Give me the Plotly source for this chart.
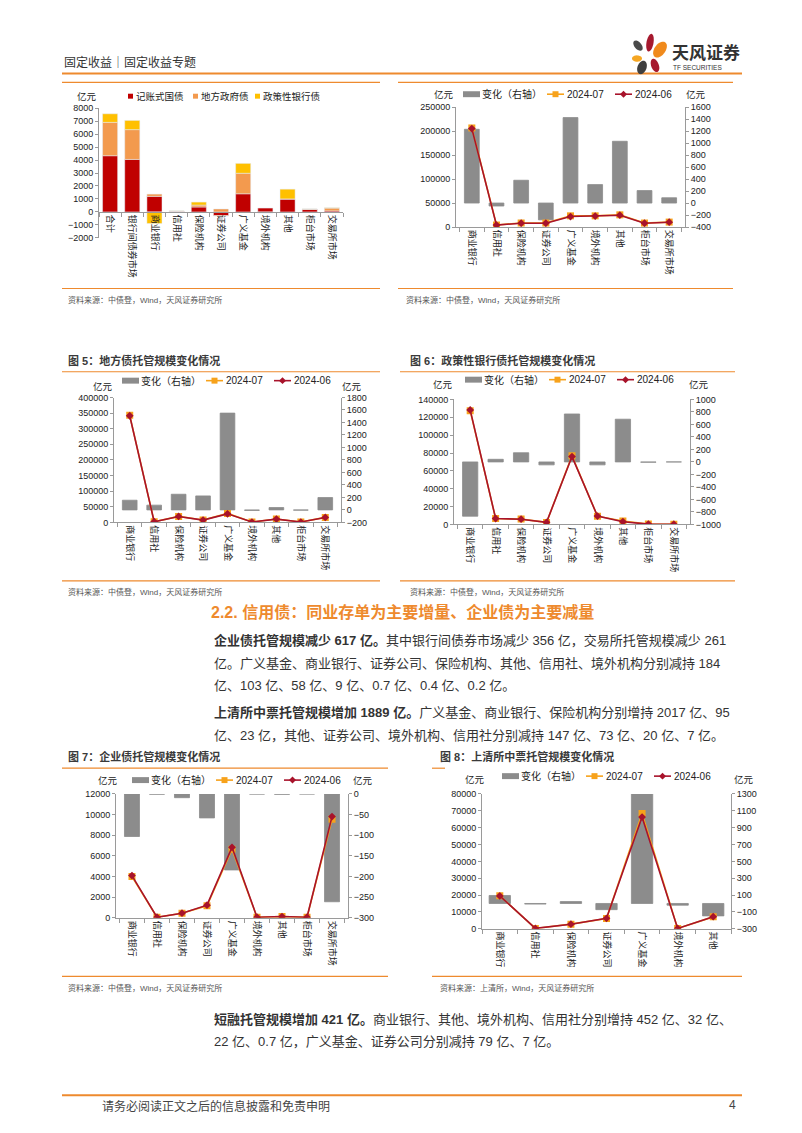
import numpy as np
import plotly.graph_objects as go

W, H = 802, 1133

FONT_CJK = "Noto Sans CJK SC"
FONT_MIX = "Liberation Sans, Noto Sans CJK SC"

RED = "#C00000"
ORANGE_BAR = "#F39A4E"
YELLOW = "#FFC000"
GRAY_BAR = "#8C8C8C"
C07 = "#F7A21B"
C06 = "#A8132B"
ACCENT = "#EE8A2E"
AXIS = "#9A9A9A"
TXT = "#333333"

# ---------------------------------------------------------------------------
# Data (亿元)
# ---------------------------------------------------------------------------
c1_cats = ["合计", "银行间债券市场", "商业银行", "信用社", "保险机构", "证券公司",
           "广义基金", "境外机构", "其他", "柜台市场", "交易所市场"]
c1_book_entry = [4330, 4045, 1200, 40, 380, -290, 1400, 300, 990, 200, 80]
c1_local_gov = [2570, 2295, 175, 40, 150, 230, 1580, -60, 15, 20, 220]
c1_policy_bank = [660, 710, -890, 10, 230, -20, 760, -15, 750, 15, 20]

c2_cats = ["商业银行", "信用社", "保险机构", "证券公司", "广义基金", "境外机构",
           "其他", "柜台市场", "交易所市场"]
c2_chg = [1230, -50, 380, -280, 1425, 308, 1030, 208, 88]
c2_jul = [206500, 4200, 8400, 8300, 23300, 23300, 25400, 8300, 10300]
c2_jun = [205200, 4000, 8000, 8000, 21800, 22900, 24600, 7900, 10100]

c5_cats = c2_cats
c5_chg = [155, 76, 251, 224, 1550, -8, 38, -4, 198]
c5_jul = [343000, 2200, 19200, 7500, 28800, 1100, 10700, 1100, 16000]
c5_jun = [341500, 2100, 19000, 7300, 27300, 1100, 10600, 1100, 15800]

c6_cats = c2_cats
c6_chg = [-869, 42, 147, -47, 768, -47, 684, -5, 0]
c6_jul = [127500, 6600, 5900, 2200, 76800, 9200, 3700, 300, 200]
c6_jun = [128300, 6600, 5800, 2300, 76000, 9300, 3000, 300, 200]

c7_cats = c2_cats
c7_chg = [-103, -0.4, -9, -58, -184, -0.2, -0.7, 0, -261]
c7_jul = [4000, 60, 440, 1170, 6650, 60, 125, 60, 9550]
c7_jun = [4100, 60, 450, 1230, 6830, 60, 126, 60, 9810]

c8_cats = ["商业银行", "信用社", "保险机构", "证券公司", "广义基金", "境外机构", "其他"]
c8_chg = [95, -7, 23, -73, 2017, -20, -147]
c8_jul = [19600, 200, 2750, 6100, 68400, 200, 7060]
c8_jun = [19500, 220, 2730, 6170, 66300, 220, 7200]


def fx(x):
    return x / W


def fy(y):
    return 1 - y / H


def cat_axis(x0, x1, anchor, position=None):
    d = dict(
        domain=[fx(x0), fx(x1)], anchor=anchor, type="category",
        tickangle=90, showline=True, linecolor=AXIS, linewidth=1,
        ticks="outside", tickson="boundaries", ticklen=4, tickcolor=AXIS,
        tickfont=dict(size=9, family=FONT_CJK, color="#222"),
        showgrid=False, zeroline=False, fixedrange=True,
    )
    if position is not None:
        d["anchor"] = "free"
        d["position"] = position
    return d


def val_axis(y0, y1, anchor, rng, dtick, side="left", overlaying=None):
    d = dict(
        anchor=anchor, range=rng, dtick=dtick, tick0=rng[0], side=side,
        tickformat="d", showline=True, linecolor=AXIS, linewidth=1,
        ticks="outside", ticklen=3, tickcolor=AXIS,
        tickfont=dict(size=9, family="Liberation Sans", color="#222"),
        showgrid=False, zeroline=False, fixedrange=True,
    )
    if overlaying:
        d["overlaying"] = overlaying
    else:
        d["domain"] = [fy(y1), fy(y0)]
    return d


fig = go.Figure()

# chart 1: stacked change by bond type
for name, vals, color in [("记账式国债", c1_book_entry, RED),
                          ("地方政府债", c1_local_gov, ORANGE_BAR),
                          ("政策性银行债", c1_policy_bank, YELLOW)]:
    fig.add_trace(go.Bar(
        x=c1_cats, y=vals, name=name, marker_color=color, width=0.68,
        xaxis="x", yaxis="y",
    ))


def add_combo(xa, y_bar, y_line, cats, chg, jul, jun):
    fig.add_trace(go.Bar(
        x=cats, y=chg, name="变化（右轴）", width=0.6,
        marker=dict(color=GRAY_BAR, line=dict(color=GRAY_BAR, width=0.8)),
        xaxis=xa, yaxis=y_bar,
    ))
    fig.add_trace(go.Scatter(
        x=cats, y=jul, name="2024-07", mode="lines+markers",
        line=dict(color=C07, width=1.6),
        marker=dict(symbol="square", size=7, color=C07),
        xaxis=xa, yaxis=y_line,
    ))
    fig.add_trace(go.Scatter(
        x=cats, y=jun, name="2024-06", mode="lines+markers",
        line=dict(color=C06, width=1.6),
        marker=dict(symbol="diamond", size=6, color=C06),
        xaxis=xa, yaxis=y_line,
    ))


add_combo("x2", "y2", "y3", c2_cats, c2_chg, c2_jul, c2_jun)
add_combo("x3", "y4", "y5", c5_cats, c5_chg, c5_jul, c5_jun)
add_combo("x4", "y6", "y7", c6_cats, c6_chg, c6_jul, c6_jun)
add_combo("x5", "y8", "y9", c7_cats, c7_chg, c7_jul, c7_jun)
add_combo("x6", "y10", "y11", c8_cats, c8_chg, c8_jul, c8_jun)

fig.update_layout(
    width=W, height=H, autosize=False, showlegend=False,
    margin=dict(l=0, r=0, t=0, b=0),
    paper_bgcolor="white", plot_bgcolor="rgba(0,0,0,0)",
    barmode="relative",
    font=dict(family=FONT_MIX, color=TXT),
    # chart 1
    xaxis=cat_axis(99, 343, "y", position=fy(208.8)),
    yaxis=val_axis(104, 235, "x", [-2000, 8000], 1000),
    # chart 2
    xaxis2=cat_axis(456, 685, "y2"),
    yaxis2=val_axis(103, 224, "x2", [-400, 1600], 200, side="right"),
    yaxis3=val_axis(103, 224, "x2", [0, 250000], 50000, overlaying="y2"),
    # chart 5
    xaxis3=cat_axis(114, 341, "y4"),
    yaxis4=val_axis(396, 522, "x3", [-200, 1800], 200, side="right"),
    yaxis5=val_axis(396, 522, "x3", [0, 400000], 50000, overlaying="y4"),
    # chart 6
    xaxis4=cat_axis(454, 690, "y6"),
    yaxis6=val_axis(398, 524, "x4", [-1000, 1000], 200, side="right"),
    yaxis7=val_axis(398, 524, "x4", [0, 140000], 20000, overlaying="y6"),
    # chart 7
    xaxis5=cat_axis(116, 348, "y8"),
    yaxis8=val_axis(796, 921, "x5", [-300, 0], 50, side="right"),
    yaxis9=val_axis(796, 921, "x5", [0, 12000], 2000, overlaying="y8"),
    # chart 8
    xaxis6=cat_axis(482, 731, "y10"),
    yaxis10=val_axis(796, 932, "x6", [-300, 1300], 200, side="right"),
    yaxis11=val_axis(796, 932, "x6", [0, 80000], 10000, overlaying="y10"),
)

# ---------------------------------------------------------------------------
# Page furniture: rules, legends, titles, body text
# ---------------------------------------------------------------------------
shapes = []
anns = []


def hline(x0, x1, y, color=ACCENT, width=1.2):
    shapes.append(dict(type="line", xref="paper", yref="paper",
                       x0=fx(x0), x1=fx(x1), y0=fy(y), y1=fy(y),
                       line=dict(color=color, width=width)))


def box(x0, y0, x1, y1, color):
    shapes.append(dict(type="rect", xref="paper", yref="paper",
                       x0=fx(x0), x1=fx(x1), y0=fy(y1), y1=fy(y0),
                       fillcolor=color, line=dict(width=0)))


def diamond(cx, cy, r, color):
    pts = [(cx, cy - r), (cx + r, cy), (cx, cy + r), (cx - r, cy)]
    path = "M " + " L ".join(f"{fx(x):.5f},{fy(y):.5f}" for x, y in pts) + " Z"
    shapes.append(dict(type="path", xref="paper", yref="paper", path=path,
                       fillcolor=color, line=dict(width=0)))


def ann(text, x, y, size, color=TXT, xanchor="left", family=FONT_MIX):
    anns.append(dict(text=text, x=fx(x), y=fy(y), xref="paper", yref="paper",
                     xanchor=xanchor, yanchor="middle", showarrow=False,
                     font=dict(size=size, color=color, family=family)))


def combo_legend(x0, y, size=10):
    box(x0, y - 3, x0 + 17, y + 3, GRAY_BAR)
    ann("变化（右轴）", x0 + 17, y, size, "#222")
    hline(x0 + 84, x0 + 101, y, C07, 1.6)
    box(x0 + 89.5, y - 3, x0 + 95.5, y + 3, C07)
    ann("2024-07", x0 + 102, y, size, "#222")
    hline(x0 + 152, x0 + 169, y, C06, 1.6)
    diamond(x0 + 160.5, y, 3.5, C06)
    ann("2024-06", x0 + 170, y, size, "#222")


# chart 1 legend
for sx, name, color in [(128, "记账式国债", RED), (193, "地方政府债", ORANGE_BAR),
                        (255, "政策性银行债", YELLOW)]:
    box(sx, 89.5, sx + 5, 94.5, color)
    ann(name, sx + 5.5, 92, 9.5, "#222")

combo_legend(463, 90)
combo_legend(122, 379)
combo_legend(465, 378)
combo_legend(132, 782)
combo_legend(502, 778)

hline(62, 742, 69, width=2)
hline(62, 380, 78)
hline(398, 733, 78)
hline(62, 380, 286)
hline(398, 733, 286)
hline(62, 380, 370)
hline(400, 735, 370)
hline(62, 380, 581)
hline(400, 735, 581)
hline(62, 388, 770)
hline(432, 445, 770)
hline(62, 388, 980)
hline(432, 742, 980)
hline(62, 742, 1100, width=2)


def petal(cx, cy, rx, ry, ang, color):
    t = np.linspace(0, 2 * np.pi, 40)
    a = np.deg2rad(ang)
    xs = cx + rx * np.cos(t) * np.cos(a) - ry * np.sin(t) * np.sin(a)
    ys = cy + rx * np.cos(t) * np.sin(a) + ry * np.sin(t) * np.cos(a)
    path = "M " + " L ".join(f"{fx(x):.5f},{fy(y):.5f}" for x, y in zip(xs, ys)) + " Z"
    shapes.append(dict(type="path", xref="paper", yref="paper", path=path,
                       fillcolor=color, line=dict(width=0)))


petal(650, 38, 3.5, 9, 10, "#A6192E")
petal(660, 45, 5.5, 9, 35, "#F08A1C")
petal(638, 41, 3.5, 6, -40, "#4A4A4A")
petal(637, 54, 5, 3.2, 0, "#F5A623")
petal(642, 63, 4.5, 7, 20, "#3F3F3F")
petal(655, 61, 3.8, 7, -20, "#A6192E")

ann("固定收益｜固定收益专题", 62, 57, 12, "#333", family=FONT_CJK)
ann("<b>天风证券</b>", 670, 47, 17, "#333", family=FONT_CJK)
ann("TF SECURITIES", 671, 63, 6.5, "#333", family="Liberation Sans Narrow, Liberation Sans")

# axis unit labels
for x, y in [(87, 92), (444, 90), (696, 90), (103, 384), (352, 384),
             (443, 382), (699, 382), (108, 782), (363, 782), (475, 781), (744, 781)]:
    ann("亿元", x, y, 9.5, "#222", xanchor="center", family=FONT_CJK)

src_cdc = "资料来源：中债登，Wind，天风证券研究所"
ann(src_cdc, 66, 298, 8, "#555")
ann(src_cdc, 404, 298, 8, "#555")
ann(src_cdc, 66, 592, 8, "#555")
ann(src_cdc, 408, 592, 8, "#555")
ann(src_cdc, 66, 992, 8, "#555")
ann("资料来源：上清所，Wind，天风证券研究所", 438, 992, 8, "#555")

ann("<b>图 5：地方债托管规模变化情况</b>", 66, 359, 11, "#3a3a3a")
ann("<b>图 6：政策性银行债托管规模变化情况</b>", 408, 359, 11, "#3a3a3a")
ann("<b>图 7：企业债托管规模变化情况</b>", 66, 758, 11, "#3a3a3a")
ann("<b>图 8：上清所中票托管规模变化情况</b>", 438, 758, 11, "#3a3a3a")

ann("<b>2.2. 信用债：同业存单为主要增量、企业债为主要减量</b>", 209, 612, 16, ACCENT)

body = [
    (641, "<b>企业债托管规模减少 617 亿。</b>其中银行间债券市场减少 356 亿，交易所托管规模减少 261"),
    (664, "亿。广义基金、商业银行、证券公司、保险机构、其他、信用社、境外机构分别减持 184"),
    (687, "亿、103 亿、58 亿、9 亿、0.7 亿、0.4 亿、0.2 亿。"),
    (714, "<b>上清所中票托管规模增加 1889 亿。</b>广义基金、商业银行、保险机构分别增持 2017 亿、95"),
    (737, "亿、23 亿，其他、证券公司、境外机构、信用社分别减持 147 亿、73 亿、20 亿、7 亿。"),
    (1024, "<b>短融托管规模增加 421 亿。</b>商业银行、其他、境外机构、信用社分别增持 452 亿、32 亿、"),
    (1046, "22 亿、0.7 亿，广义基金、证券公司分别减持 79 亿、7 亿。"),
]
for y, line in body:
    ann(line, 212, y, 13, "#333")

ann("请务必阅读正文之后的信息披露和免责申明", 100, 1110, 12, "#444", family=FONT_CJK)
ann("4", 738, 1110, 12, "#444", xanchor="right")

fig.update_layout(shapes=shapes, annotations=anns)

fig.write_html("out.html", config={"displayModeBar": False},
               post_script="document.body.style.margin='0';")
